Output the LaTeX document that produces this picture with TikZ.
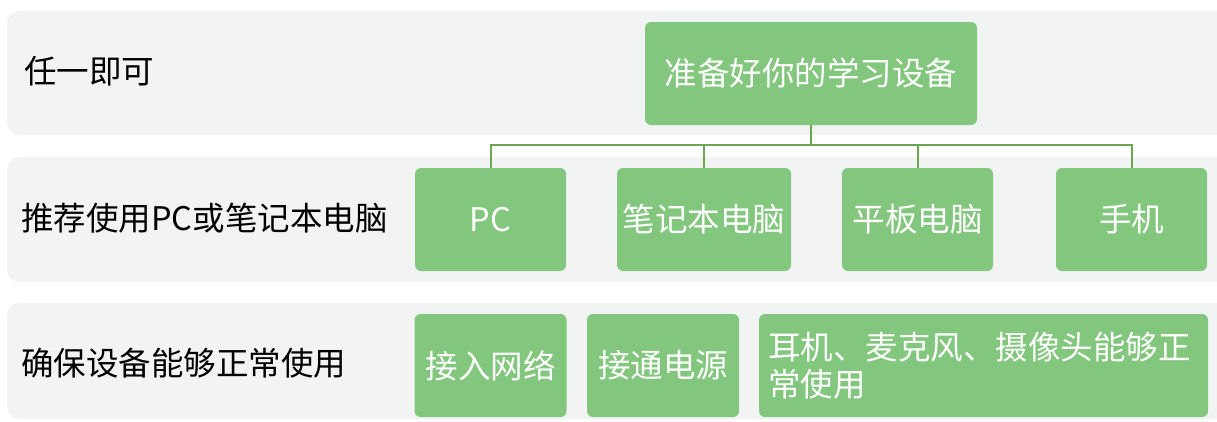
\documentclass[tikz,border=0pt]{standalone}
\usepackage{fontspec}
\setmainfont{Noto Sans CJK SC}
\definecolor{band}{HTML}{F2F4F3}
\definecolor{boxg}{HTML}{82C77D}
\definecolor{lineg}{HTML}{6AA84F}
\begin{document}
\begin{tikzpicture}[x=1pt,y=-1pt,
  bandbox/.style={fill=band,draw=none,rounded corners=12pt},
  gbox/.style={fill=boxg,draw=none,rounded corners=6pt,text=white,
    minimum height=103pt,inner sep=0pt,font=\fontsize{32.5}{37}\selectfont},
  lbl/.style={anchor=west,text=black,inner sep=0pt,font=\fontsize{32.5}{37}\selectfont},
  conn/.style={draw=lineg,line width=2pt}]
\useasboundingbox (0,0) rectangle (1217,421);
\begin{scope}
\clip (0,0) rectangle (1217,421);
\fill[bandbox] (7,11) rectangle (1240,135);
\fill[bandbox] (7,157) rectangle (1240,282);
\fill[bandbox] (7,303) rectangle (1240,419);
\end{scope}
\node[lbl] (l1) at (24,71) {任一即可};
\node[lbl] (l2) at (21,218) {推荐使用PC或笔记本电脑};
\node[lbl] (l3) at (21,363) {确保设备能够正常使用};

\node[gbox,minimum width=332pt] (top) at (811,73.5) {准备好你的学习设备};
\node[gbox,minimum width=151pt] (pc) at (490.5,219.5) {PC};
\node[gbox,minimum width=174pt] (nb) at (704,219.5) {笔记本电脑};
\node[gbox,minimum width=151pt] (pad) at (917.5,219.5) {平板电脑};
\node[gbox,minimum width=151pt] (ph) at (1131.5,219.5) {手机};

\node[gbox,minimum width=152pt] (net) at (490.5,365.5) {接入网络};
\node[gbox,minimum width=152pt] (pow) at (663,365.5) {接通电源};
\node[gbox,minimum width=449pt,text width=431pt,align=left,inner xsep=9pt] (cam) at (983.5,365.5) {耳机、麦克风、摄像头能够正\\常使用};

\coordinate (bus) at (811,145);
\draw[conn] (top.south) -- (bus);
\draw[conn] (pc.north) |- (bus);
\draw[conn] (nb.north) |- (bus);
\draw[conn] (pad.north) |- (bus);
\draw[conn] (ph.north) |- (bus);
\end{tikzpicture}
\end{document}
